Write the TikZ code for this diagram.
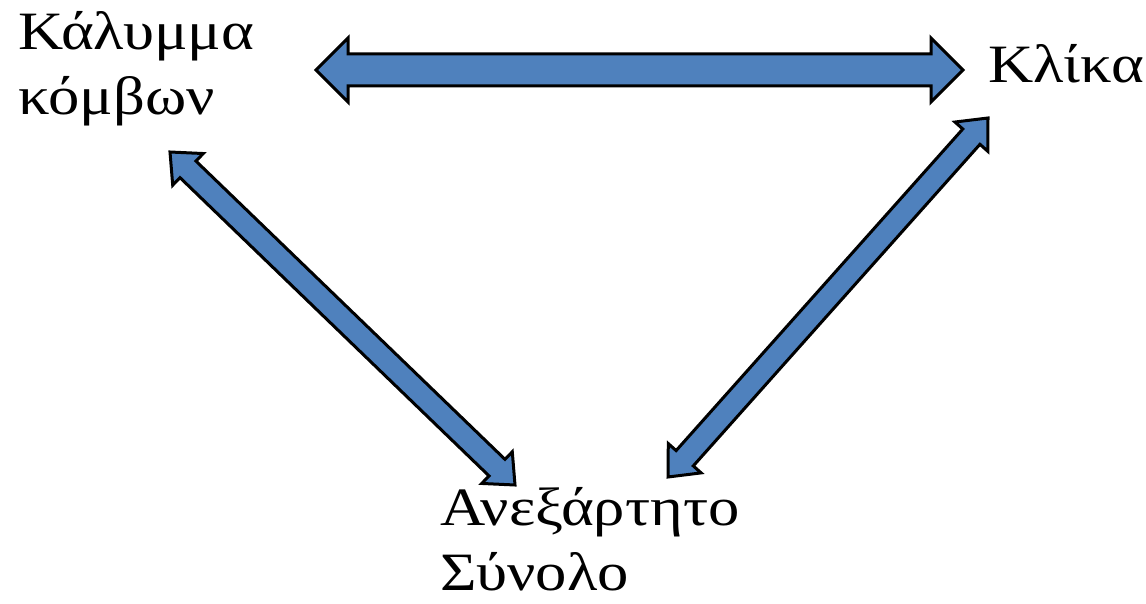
\documentclass[tikz,border=0pt]{standalone}
\usepackage{fontspec}
\setmainfont[FakeStretch=1.16]{Liberation Serif}
\usetikzlibrary{calc}
\definecolor{arrowblue}{HTML}{4F81BD}
\tikzset{
  lbl/.style={inner sep=0pt, align=left, anchor=base west, font=\fontsize{54}{65}\selectfont},
  blk/.style={fill=arrowblue, draw=black, line width=3pt, line join=miter}
}
\newcommand\blkarrow[5]{% start, end, head length, head half width, shaft half width
  \draw[blk] let \p1=(#1), \p2=(#2), \n1={atan2(\y2-\y1,\x2-\x1)}, \n2={veclen(\x2-\x1,\y2-\y1)} in
    (\p1)
    -- ($(\p1)+({\n1}:#3pt)+({\n1+90}:#4pt)$)
    -- ($(\p1)+({\n1}:#3pt)+({\n1+90}:#5pt)$)
    -- ($(\p1)+({\n1}:\n2-#3pt)+({\n1+90}:#5pt)$)
    -- ($(\p1)+({\n1}:\n2-#3pt)+({\n1+90}:#4pt)$)
    -- (\p2)
    -- ($(\p1)+({\n1}:\n2-#3pt)+({\n1-90}:#4pt)$)
    -- ($(\p1)+({\n1}:\n2-#3pt)+({\n1-90}:#5pt)$)
    -- ($(\p1)+({\n1}:#3pt)+({\n1-90}:#5pt)$)
    -- ($(\p1)+({\n1}:#3pt)+({\n1-90}:#4pt)$)
    -- cycle;
}
\begin{document}
\begin{tikzpicture}[x=1pt,y=-1pt]
\useasboundingbox (0,0) rectangle (1146,604);
\node[lbl] (cover) at (18,115) {Κάλυμμα\\κόμβων};
\node[lbl] (clique) at (988,83) {Κλίκα};
\node[lbl] (indep) at (440,590) {Ανεξάρτητο\\Σύνολο};
\coordinate (h1) at (316,70);
\coordinate (h2) at (963,70);
\coordinate (l1) at (170,152);
\coordinate (l2) at (515,485);
\coordinate (r1) at (988,118);
\coordinate (r2) at (668,477);
\blkarrow{h1}{h2}{32}{32}{16}
\blkarrow{l1}{l2}{25}{22}{11.5}
\blkarrow{r1}{r2}{25}{22}{11.5}
\end{tikzpicture}
\end{document}
